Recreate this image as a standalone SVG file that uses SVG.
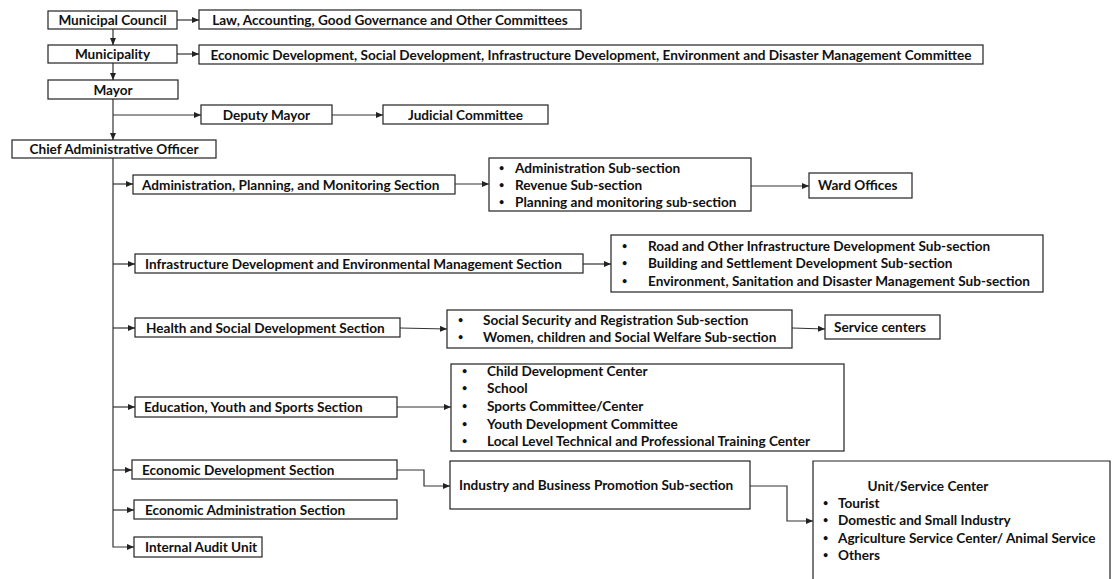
<svg xmlns="http://www.w3.org/2000/svg" width="1112" height="579" viewBox="0 0 1112 579">
<style>
.b{fill:#fff;stroke:#222;stroke-width:1.2}
.t{font-family:Lato,"Open Sans",sans-serif;font-weight:bold;font-size:13.6px;fill:#111}
.d{font-family:Lato,"Open Sans",sans-serif;font-weight:bold;font-size:9px;fill:#111}
.c{text-anchor:middle}
.l{fill:none;stroke:#333;stroke-width:1.2}
</style>
<defs>
<marker id="a" markerWidth="7" markerHeight="6" refX="7" refY="3" orient="auto" markerUnits="userSpaceOnUse"><path d="M0,0 L7,3 L0,6 z" fill="#222"/></marker>
</defs>
<rect width="1112" height="579" fill="#fff"/>
<g id="connectors">
<path class="l" d="M177,20 H199" marker-end="url(#a)"/>
<path class="l" d="M177,54 H199" marker-end="url(#a)"/>
<path class="l" d="M113,29 V45" marker-end="url(#a)"/>
<path class="l" d="M113,63 V80" marker-end="url(#a)"/>
<path class="l" d="M113,99 V140" marker-end="url(#a)"/>
<path class="l" d="M113,115 H201" marker-end="url(#a)"/>
<path class="l" d="M332,115 H383" marker-end="url(#a)"/>
<path class="l" d="M113,158 V547 H134" marker-end="url(#a)"/>
<path class="l" d="M113,184 H133" marker-end="url(#a)"/>
<path class="l" d="M113,264 H135" marker-end="url(#a)"/>
<path class="l" d="M113,328 H135" marker-end="url(#a)"/>
<path class="l" d="M113,407 H135" marker-end="url(#a)"/>
<path class="l" d="M113,470 H132" marker-end="url(#a)"/>
<path class="l" d="M113,510 H134" marker-end="url(#a)"/>
<path class="l" d="M455,184 H489" marker-end="url(#a)"/>
<path class="l" d="M751,186 H809" marker-end="url(#a)"/>
<path class="l" d="M583,264 H611" marker-end="url(#a)"/>
<path class="l" d="M400,328 L447,329" marker-end="url(#a)"/>
<path class="l" d="M792,328 L825,329" marker-end="url(#a)"/>
<path class="l" d="M397,407 H451" marker-end="url(#a)"/>
<path class="l" d="M397,470 H424 V486 H450" marker-end="url(#a)"/>
<path class="l" d="M750,486 H787 V521 H813" marker-end="url(#a)"/>
</g>
<g id="n-council"><rect class="b" x="48" y="11" width="129" height="18"/><text class="t c" x="112.5" y="24.8">Municipal Council</text></g>
<g id="n-law"><rect class="b" x="199" y="10" width="382" height="19"/><text class="t c" x="390" y="24.5">Law, Accounting, Good Governance and Other Committees</text></g>
<g id="n-municipality"><rect class="b" x="48" y="45" width="129" height="18"/><text class="t c" x="112.5" y="58.8">Municipality</text></g>
<g id="n-eco-committee"><rect class="b" x="199" y="45" width="784" height="19"/><text class="t c" x="591" y="59.5">Economic Development, Social Development, Infrastructure Development, Environment and Disaster Management Committee</text></g>
<g id="n-mayor"><rect class="b" x="48" y="80" width="130" height="19"/><text class="t c" x="113" y="94.5">Mayor</text></g>
<g id="n-deputy"><rect class="b" x="201" y="105" width="131" height="19"/><text class="t c" x="266.5" y="119.5">Deputy Mayor</text></g>
<g id="n-judicial"><rect class="b" x="383" y="105" width="165" height="19"/><text class="t c" x="465.5" y="119.5">Judicial Committee</text></g>
<g id="n-cao"><rect class="b" x="12" y="140" width="204" height="18"/><text class="t c" x="114" y="153.8">Chief Administrative Officer</text></g>
<g id="n-admin"><rect class="b" x="133" y="175" width="322" height="19"/><text class="t" x="142" y="189.5">Administration, Planning, and Monitoring Section</text></g>
<g id="n-admin-sub"><rect class="b" x="489" y="158" width="262" height="53"/>
<text class="d" x="499" y="171">•</text><text class="t" x="515" y="173">Administration Sub-section</text>
<text class="d" x="499" y="188">•</text><text class="t" x="515" y="190">Revenue Sub-section</text>
<text class="d" x="499" y="205">•</text><text class="t" x="515" y="207">Planning and monitoring sub-section</text></g>
<g id="n-ward"><rect class="b" x="809" y="173" width="103" height="25"/><text class="t" x="818" y="190">Ward Offices</text></g>
<g id="n-infra"><rect class="b" x="135" y="254" width="448" height="19"/><text class="t" x="145" y="268.5">Infrastructure Development and Environmental Management  Section</text></g>
<g id="n-infra-sub"><rect class="b" x="611" y="235" width="432" height="57"/>
<text class="d" x="622" y="249">•</text><text class="t" x="648" y="251">Road and Other Infrastructure Development Sub-section</text>
<text class="d" x="622" y="266">•</text><text class="t" x="648" y="268">Building and Settlement Development Sub-section</text>
<text class="d" x="622" y="284">•</text><text class="t" x="648" y="286">Environment, Sanitation and Disaster  Management Sub-section</text></g>
<g id="n-health"><rect class="b" x="135" y="318" width="265" height="19"/><text class="t" x="146" y="332.5">Health and Social Development Section</text></g>
<g id="n-health-sub"><rect class="b" x="447" y="310" width="345" height="38"/>
<text class="d" x="458" y="323">•</text><text class="t" x="483" y="325">Social Security and Registration Sub-section</text>
<text class="d" x="458" y="340">•</text><text class="t" x="483" y="342">Women, children and Social Welfare Sub-section</text></g>
<g id="n-service"><rect class="b" x="825" y="315" width="115" height="24"/><text class="t" x="834" y="331.5">Service centers</text></g>
<g id="n-edu"><rect class="b" x="135" y="397" width="262" height="20"/><text class="t" x="144" y="411.5">Education, Youth and Sports Section</text></g>
<g id="n-edu-sub"><rect class="b" x="451" y="364" width="393" height="87"/>
<text class="d" x="462" y="374">•</text><text class="t" x="487" y="376">Child Development Center</text>
<text class="d" x="462" y="391">•</text><text class="t" x="487" y="393">School</text>
<text class="d" x="462" y="409">•</text><text class="t" x="487" y="411">Sports Committee/Center</text>
<text class="d" x="462" y="427">•</text><text class="t" x="487" y="429">Youth Development Committee</text>
<text class="d" x="462" y="444">•</text><text class="t" x="487" y="446">Local Level Technical and Professional Training Center</text></g>
<g id="n-ecodev"><rect class="b" x="132" y="460" width="265" height="19"/><text class="t" x="142" y="474.5">Economic Development Section</text></g>
<g id="n-industry"><rect class="b" x="450" y="461" width="300" height="48"/><text class="t" x="459" y="490">Industry and Business Promotion Sub-section</text></g>
<g id="n-unit"><path class="b" d="M813,590 V461 H1110 V590"/>
<text class="t c" x="928" y="491">Unit/Service Center</text>
<text class="d" x="823" y="506">•</text><text class="t" x="838" y="508">Tourist</text>
<text class="d" x="823" y="523">•</text><text class="t" x="838" y="525">Domestic and Small Industry</text>
<text class="d" x="823" y="541">•</text><text class="t" x="838" y="543">Agriculture Service Center/ Animal Service</text>
<text class="d" x="823" y="558">•</text><text class="t" x="838" y="560">Others</text></g>
<g id="n-ecoadmin"><rect class="b" x="134" y="500" width="263" height="19"/><text class="t" x="145" y="514.5">Economic Administration Section</text></g>
<g id="n-audit"><rect class="b" x="134" y="537" width="128" height="20"/><text class="t" x="145" y="551.5">Internal Audit Unit</text></g>
</svg>
